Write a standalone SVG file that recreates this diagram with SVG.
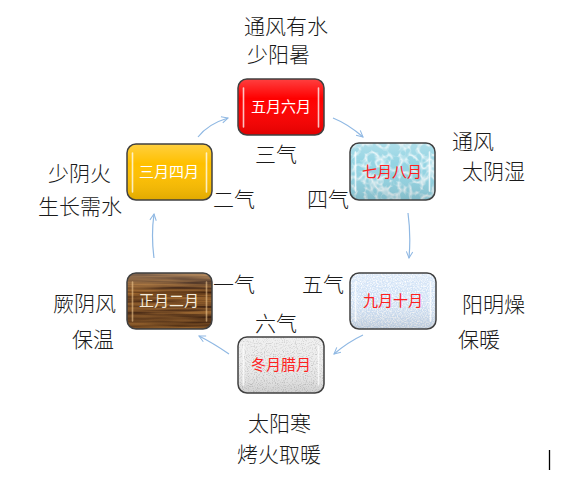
<svg xmlns="http://www.w3.org/2000/svg" width="582" height="483" viewBox="0 0 582 483">
<style>
filter{color-interpolation-filters:sRGB}
.lbl{font-family:"Noto Sans CJK SC","Noto Sans CJK JP",sans-serif;font-size:21px;font-weight:300;fill:#1a1a1a}
.in{font-family:"Noto Sans CJK SC","Noto Sans CJK JP",sans-serif;font-size:15px;font-weight:400;text-anchor:middle}
.edge{fill:none;stroke:#404040;stroke-width:1.5}
.gloss{fill:url(#gl)}
.hl{stroke:#ffffff;stroke-width:1.6;stroke-linecap:round;opacity:0.75}
.conn{fill:none;stroke:#8fb8e3;stroke-width:1.2;marker-end:url(#ah)}
</style>
<defs>
<linearGradient id="gl" x1="0" y1="0" x2="0" y2="1">
<stop offset="0" stop-color="#ffffff" stop-opacity="0.25"/>
<stop offset="0.35" stop-color="#ffffff" stop-opacity="0"/>
<stop offset="1" stop-color="#000000" stop-opacity="0.12"/>
</linearGradient>
<marker id="ah" viewBox="0 0 10 10" refX="9" refY="5" markerWidth="8" markerHeight="8" markerUnits="userSpaceOnUse" orient="auto">
<path d="M1,1 L9,5 L1,9" fill="none" stroke="#8fb8e3" stroke-width="1.3"/>
</marker>
<filter id="speck" x="0" y="0" width="1" height="1">
<feTurbulence type="fractalNoise" baseFrequency="0.8" numOctaves="2" seed="3" result="t"/>
<feColorMatrix in="t" type="matrix" values="0 0 0 0 1 0 0 0 0 1 0 0 0 0 1 0 0 0 -2.2 1.4" result="w"/>
<feComposite in="w" in2="SourceGraphic" operator="in" result="wc"/>
<feMerge><feMergeNode in="SourceGraphic"/><feMergeNode in="wc"/></feMerge>
</filter>
<filter id="grey" x="0" y="0" width="1" height="1">
<feTurbulence type="fractalNoise" baseFrequency="0.9" numOctaves="2" seed="7" result="t"/>
<feColorMatrix in="t" type="matrix" values="0 0 0 0 0.72 0 0 0 0 0.72 0 0 0 0 0.72 0 0 0 -2.2 1.15" result="w"/>
<feComposite in="w" in2="SourceGraphic" operator="in" result="wc"/>
<feMerge><feMergeNode in="SourceGraphic"/><feMergeNode in="wc"/></feMerge>
</filter>
<filter id="water" x="0" y="0" width="1" height="1">
<feTurbulence type="turbulence" baseFrequency="0.09" numOctaves="2" seed="5" result="t"/>
<feColorMatrix in="t" type="matrix" values="0 0 0 0 1 0 0 0 0 1 0 0 0 0 1 0 0 0 -2.5 0.8" result="w"/>
<feComposite in="w" in2="SourceGraphic" operator="in" result="wc"/>
<feMerge><feMergeNode in="SourceGraphic"/><feMergeNode in="wc"/></feMerge>
</filter>
<filter id="wood" x="0" y="0" width="1" height="1">
<feTurbulence type="fractalNoise" baseFrequency="0.012 0.3" numOctaves="3" seed="2" result="t"/>
<feColorMatrix in="t" type="matrix" values="0.65 0 0 0 0.13 0.48 0 0 0 0.04 0.22 0 0 0 0.01 0 0 0 0 1" result="w"/>
<feComposite in="w" in2="SourceGraphic" operator="in"/>
</filter>
</defs>
<rect width="582" height="483" fill="#ffffff"/>

<g id="connectors">
<path class="conn" d="M198,137 Q208,124 228,118"/>
<path class="conn" d="M333,118 Q348,124 363,137"/>
<path class="conn" d="M408,213 Q411,235 409,258"/>
<path class="conn" d="M363,335 Q348,342 334,354"/>
<path class="conn" d="M229,354 Q213,343 199,336"/>
<path class="conn" d="M154,258 Q151,235 154,214"/>
</g>

<g id="n-wuyue">
<rect x="238" y="79" width="86" height="56" rx="9" fill="#ff0000"/>
<rect class="gloss" x="238" y="79" width="86" height="56" rx="9"/>
<line class="hl" x1="243.5" y1="88" x2="243.5" y2="127"/>
<line class="hl" x1="318.5" y1="88" x2="318.5" y2="127"/>
<rect class="edge" x="238" y="79" width="86" height="56" rx="9"/>
<text class="in" x="281" y="112" fill="#ffffff">五月六月</text>
</g>

<g id="n-qiyue">
<rect x="350" y="143" width="85" height="57" rx="9" fill="#94d4e3" filter="url(#water)"/>
<rect class="gloss" x="350" y="143" width="85" height="57" rx="9"/>
<line class="hl" x1="355.5" y1="152" x2="355.5" y2="191"/>
<line class="hl" x1="429.5" y1="152" x2="429.5" y2="191"/>
<rect class="edge" x="350" y="143" width="85" height="57" rx="9"/>
<text class="in" x="392" y="177" fill="#ff2020">七月八月</text>
</g>

<g id="n-jiuyue">
<rect x="350" y="273" width="86" height="56" rx="9" fill="#cfe1f6" filter="url(#speck)"/>
<rect class="gloss" x="350" y="273" width="86" height="56" rx="9"/>
<line class="hl" x1="355.5" y1="282" x2="355.5" y2="321"/>
<line class="hl" x1="430.5" y1="282" x2="430.5" y2="321"/>
<rect class="edge" x="350" y="273" width="86" height="56" rx="9"/>
<text class="in" x="393" y="306" fill="#ff2020">九月十月</text>
</g>

<g id="n-dongyue">
<rect x="238" y="337" width="86" height="56" rx="9" fill="#ededed" filter="url(#grey)"/>
<rect class="gloss" x="238" y="337" width="86" height="56" rx="9"/>
<line class="hl" x1="243.5" y1="346" x2="243.5" y2="385"/>
<line class="hl" x1="318.5" y1="346" x2="318.5" y2="385"/>
<rect class="edge" x="238" y="337" width="86" height="56" rx="9"/>
<text class="in" x="281" y="370" fill="#ff2020">冬月腊月</text>
</g>

<g id="n-zhengyue">
<rect x="127" y="273" width="85" height="56" rx="9" fill="#7b4a20" filter="url(#wood)"/>
<rect class="gloss" x="127" y="273" width="85" height="56" rx="9"/>
<line class="hl" x1="132.5" y1="282" x2="132.5" y2="321" style="stroke:#f0c890;opacity:0.6"/>
<line class="hl" x1="206.5" y1="282" x2="206.5" y2="321" style="stroke:#f0c890;opacity:0.6"/>
<rect class="edge" x="127" y="273" width="85" height="56" rx="9"/>
<text class="in" x="169" y="306" fill="#f4ecdc">正月二月</text>
</g>

<g id="n-sanyue">
<rect x="127" y="144" width="85" height="56" rx="9" fill="#ffc000"/>
<rect class="gloss" x="127" y="144" width="85" height="56" rx="9"/>
<line class="hl" x1="132.5" y1="153" x2="132.5" y2="192"/>
<line class="hl" x1="206.5" y1="153" x2="206.5" y2="192"/>
<rect class="edge" x="127" y="144" width="85" height="56" rx="9"/>
<text class="in" x="169" y="177" fill="#ffffff">三月四月</text>
</g>

<g id="labels">
<text class="lbl" x="244" y="34">通风有水</text>
<text class="lbl" x="247" y="62">少阳暑</text>
<text class="lbl" x="255" y="162">三气</text>
<text class="lbl" x="307" y="207">四气</text>
<text class="lbl" x="213" y="207">二气</text>
<text class="lbl" x="213" y="292">一气</text>
<text class="lbl" x="48" y="181">少阴火</text>
<text class="lbl" x="38" y="214">生长需水</text>
<text class="lbl" x="53" y="311">厥阴风</text>
<text class="lbl" x="72" y="347">保温</text>
<text class="lbl" x="452" y="149">通风</text>
<text class="lbl" x="462" y="179">太阴湿</text>
<text class="lbl" x="302" y="292">五气</text>
<text class="lbl" x="255" y="331">六气</text>
<text class="lbl" x="462" y="312">阳明燥</text>
<text class="lbl" x="458" y="347">保暖</text>
<text class="lbl" x="248" y="431">太阳寒</text>
<text class="lbl" x="237" y="462">烤火取暖</text>
</g>
<line x1="549.5" y1="450" x2="549.5" y2="470" stroke="#000000" stroke-width="1.3"/>
</svg>
